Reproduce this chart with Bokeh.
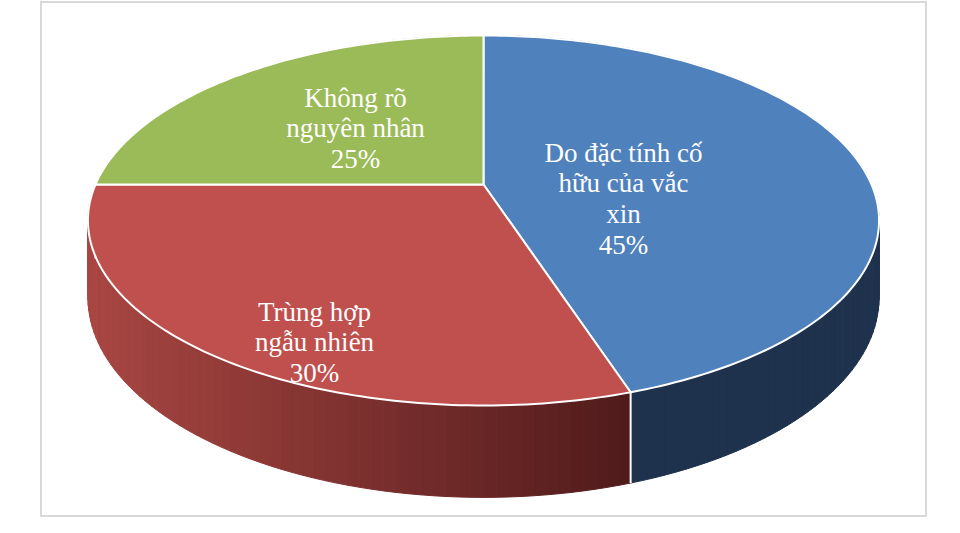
import numpy as np
from bokeh.plotting import figure
from bokeh.models import Range1d, ColumnDataSource
from bokeh.core.properties import value
from bokeh.embed import file_html
from bokeh.resources import INLINE

# ---------------- data ----------------
categories = ["Do đặc tính cố hữu của vắc xin", "Trùng hợp ngẫu nhiên", "Không rõ nguyên nhân"]
label_lines = [["Do đặc tính cố", "hữu của vắc", "xin"],
               ["Trùng hợp", "ngẫu nhiên"],
               ["Không rõ", "nguyên nhân"]]
shares = [45, 30, 25]
pct_labels = ["45%", "30%", "25%"]

# ---------------- style ----------------
top_colors = ["#4F81BD", "#C0504D", "#9BBB59"]
side_color_left = ["#1F3049", "#A84642", "#76923C"]
side_color_right = ["#1F324D", "#501B1B", "#4F6228"]
grad_x = (90.0, 630.0)

# ---------------- layout ----------------
CX, CY = 483.0, 184.0     # apex of the pie (screen px)
A, B = 388.0, 178.0       # horizontal / depth radius
K = 0.1946                # perspective factor
DEPTH = 74.0              # thickness
label_x = [623, 314, 355]
label_y0 = [152, 311, 97]
line_step = 30.7

W, H = 944, 517
p = figure(width=W, height=H, x_range=Range1d(0, W), y_range=Range1d(H, 0),
           output_backend="svg", toolbar_location=None, min_border=0,
           x_axis_location=None, y_axis_location=None)
p.grid.visible = False
p.outline_line_color = None
p.background_fill_color = "white"
p.border_fill_color = "white"


def proj(t_deg, y=0.0):
    t = np.radians(np.asarray(t_deg, dtype=float))
    X = np.cos(t)
    Z = np.sin(t)
    den = 1.0 + K * Z
    return CX + A * X / den, CY + (-B * Z + DEPTH * y) / den


def hex2rgb(h):
    h = h.lstrip("#")
    return np.array([int(h[i:i + 2], 16) for i in (0, 2, 4)], dtype=float)


def mix(c1, c2, f):
    c = hex2rgb(c1) * (1 - f) + hex2rgb(c2) * f
    return "#%02x%02x%02x" % tuple(int(round(v)) for v in c)


total = float(sum(shares))
bounds = []
acc = 0.0
for s in shares:
    t0 = 90.0 - 360.0 * acc / total
    acc += s
    t1 = 90.0 - 360.0 * acc / total
    bounds.append((t0, t1))

# ---------- side walls (gradient strips) ----------
sx, sy, sc = [], [], []
for i, (t0, t1) in enumerate(bounds):
    n = max(2, int(abs(t0 - t1) / 1.5))
    ts = np.linspace(t0, t1, n + 1)
    for a, b in zip(ts[:-1], ts[1:]):
        xa0, ya0 = proj(a, 0)
        xb0, yb0 = proj(b, 0)
        xa1, ya1 = proj(a, 1)
        xb1, yb1 = proj(b, 1)
        xm = 0.5 * (xa0 + xb0)
        f = min(1.0, max(0.0, (xm - grad_x[0]) / (grad_x[1] - grad_x[0])))
        sx.append([float(xa0), float(xb0), float(xb1), float(xa1)])
        sy.append([float(ya0), float(yb0), float(yb1), float(ya1)])
        sc.append(mix(side_color_left[i], side_color_right[i], f))
side_src = ColumnDataSource(dict(xs=sx, ys=sy, c=sc))
p.patches("xs", "ys", source=side_src, fill_color="c", line_color="c", line_width=1)

# white vertical edges between side walls (front boundaries)
for (t0, t1) in bounds:
    x0, y0 = proj(t0, 0)
    x1, y1 = proj(t0, 1)
    if np.sin(np.radians(t0)) < 0:
        p.line([float(x0), float(x1)], [float(y0), float(y1)], line_color="white", line_width=2)

# ---------- top faces ----------
tx, ty = [], []
for (t0, t1) in bounds:
    ts = np.linspace(t0, t1, int(abs(t0 - t1)) + 2)
    ax, ay = proj(ts, 0)
    tx.append([CX] + [float(v) for v in ax])
    ty.append([CY] + [float(v) for v in ay])
top_src = ColumnDataSource(dict(xs=tx, ys=ty, c=top_colors, name=categories))
p.patches("xs", "ys", source=top_src, fill_color="c", line_color="white",
          line_width=2, line_join="round")

# ---------- labels ----------
lx, ly, lt = [], [], []
for i in range(len(shares)):
    lines = label_lines[i] + [pct_labels[i]]
    for j, txt in enumerate(lines):
        lx.append(label_x[i])
        ly.append(label_y0[i] + j * line_step)
        lt.append(txt)
p.text(x=lx, y=ly, text=lt, text_font=value("Liberation Serif"), text_font_size="27px",
       text_color="white", text_align="center", text_baseline="alphabetic")

# ---------- chart frame ----------
p.line([40.5, 40.5], [0, H], line_color="#D9D9D9", line_width=2)
p.line([925.5, 925.5], [0, H], line_color="#D9D9D9", line_width=2)
p.line([40.5, 925.5], [1.5, 1.5], line_color="#D9D9D9", line_width=2)
p.line([40.5, 925.5], [515.5, 515.5], line_color="#D9D9D9", line_width=2)

open("out.html", "w").write(file_html(p, INLINE))
